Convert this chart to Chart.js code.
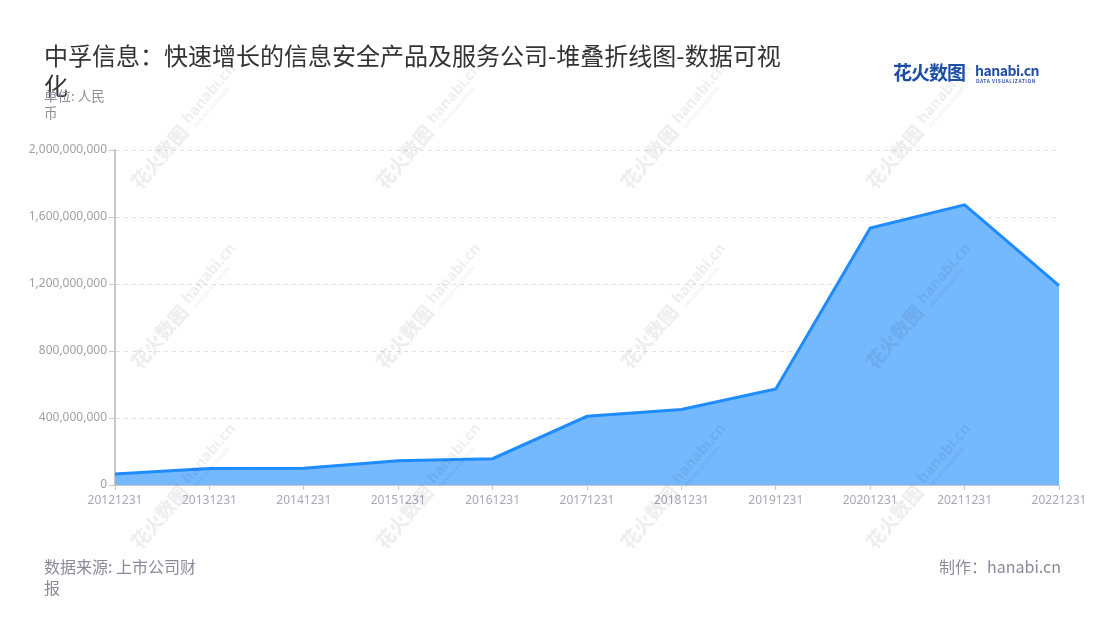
<!DOCTYPE html>
<html>
<head>
<meta charset="utf-8">
<script src="https://cdn.jsdelivr.net/npm/chart.js@4"></script>
<style>
  html, body { margin:0; padding:0; background:#fff; }
  body { width:1100px; height:620px; position:relative; overflow:hidden;
         font-family:'Noto Sans CJK SC','Noto Sans',sans-serif; }
  #wrap { position:absolute; left:0; top:0; width:1100px; height:620px; }
  .abs { position:absolute; }
  #title { left:44px; top:40px; width:750px; font-size:24px; line-height:30px; color:#333; }
  #unit { left:44px; top:87px; width:70px; font-size:13.5px; line-height:17px; color:#8e8e9c; }
  #source { left:44px; top:556px; width:165px; font-size:16px; line-height:21px; color:#8a8a9a; }
  #maker { right:39px; top:556px; font-size:16px; line-height:21px; color:#8a8a9a; }
  #logo { left:893px; top:58px; width:150px; height:30px; }
  #logo .cn { position:absolute; left:0; top:0; font-size:19px; font-weight:700; color:#1d4ea6; letter-spacing:-1px; line-height:28px; }
  #logo .en { position:absolute; left:82px; top:1px; font-size:14px; font-weight:700; color:#244fa8; line-height:22px; letter-spacing:-0.5px;}
  #logo .sub { position:absolute; left:83px; top:20px; font-size:5px; font-weight:700; color:#3a5aa8; letter-spacing:0.5px; line-height:6px; }
</style>
</head>
<body>
<div id="wrap"><canvas id="c" width="1100" height="620"></canvas></div>
<div id="title" class="abs">中孚信息：快速增长的信息安全产品及服务公司-堆叠折线图-数据可视化</div>
<div id="unit" class="abs">单位: 人民币</div>
<div id="source" class="abs">数据来源: 上市公司财报</div>
<div id="maker" class="abs">制作：hanabi.cn</div>
<div id="logo" class="abs"><span class="cn">花火数图</span><span class="en">hanabi.cn</span><span class="sub">DATA VISUALIZATION</span></div>
<script>
const categories = ['20121231','20131231','20141231','20151231','20161231','20171231','20181231','20191231','20201231','20211231','20221231'];
const revenue = [66000000, 99000000, 100000000, 145000000, 157000000, 410000000, 451000000, 573000000, 1534000000, 1673000000, 1190000000];
const seriesName = '营业收入';
const yTicks = [0, 400000000, 800000000, 1200000000, 1600000000, 2000000000];

const watermark = {
  id: 'watermark',
  afterDraw(chart) {
    const ctx = chart.ctx;
    const xs = [184, 429, 674, 919];
    const ys = [128, 308, 488];
    ctx.save();
    ctx.fillStyle = 'rgba(0,0,0,0.065)';
    xs.forEach(x => ys.forEach(y => {
      ctx.save();
      ctx.translate(x, y);
      ctx.rotate(-Math.PI / 4 - 0.08);
      ctx.textBaseline = 'middle';
      ctx.font = '900 19px "Noto Sans CJK SC"';
      ctx.fillText('花火数图', -76, 0);
      ctx.font = '700 15px "Noto Sans"';
      ctx.fillText('hanabi.cn', 6, -3);
      ctx.font = '700 5px "Noto Sans"';
      ctx.fillText('DATA VISUALIZATION', 7, 8);
      ctx.restore();
    }));
    ctx.restore();
  }
};

new Chart(document.getElementById('c'), {
  type: 'line',
  data: {
    labels: categories,
    datasets: [{
      label: seriesName,
      data: revenue,
      borderColor: '#1e8cff',
      backgroundColor: '#74b8fd',
      borderWidth: 3,
      fill: 'origin',
      pointRadius: 0,
      pointHoverRadius: 0,
      tension: 0
    }]
  },
  options: {
    responsive: false,
    animation: false,
    devicePixelRatio: 1,
    layout: { padding: { top: 150, right: 41, left: 0, bottom: 0 } },
    plugins: { legend: { display: false }, tooltip: { enabled: false } },
    scales: {
      x: {
        offset: false,
        afterFit(s) { s.height = 135; },
        grid: { drawOnChartArea: false, drawTicks: true, tickLength: 5, tickColor: '#c8c8c8' },
        border: { color: '#c8c8d0', width: 1 },
        ticks: { color: '#a6a8b8', font: { size: 12, family: "'Noto Sans','Noto Sans CJK SC'" }, padding: 3, maxRotation: 0, autoSkip: false }
      },
      y: {
        min: 0, max: 2000000000,
        afterFit(s) { s.width = 115; },
        afterBuildTicks(s) { s.ticks = yTicks.map(v => ({ value: v })); },
        grid: { color: '#e2e2e2', lineWidth: 1, tickLength: 6, tickColor: '#c8c8c8', tickBorderDash: [] },
        border: { color: '#c8c8c8', width: 2, dash: [4, 4] },
        ticks: {
          color: '#a0a0a8', font: { size: 12, family: "'Noto Sans','Noto Sans CJK SC'" }, padding: 2,
          callback: v => Number(v).toLocaleString('en-US')
        }
      }
    }
  },
  plugins: [watermark]
});
</script>
</body>
</html>
